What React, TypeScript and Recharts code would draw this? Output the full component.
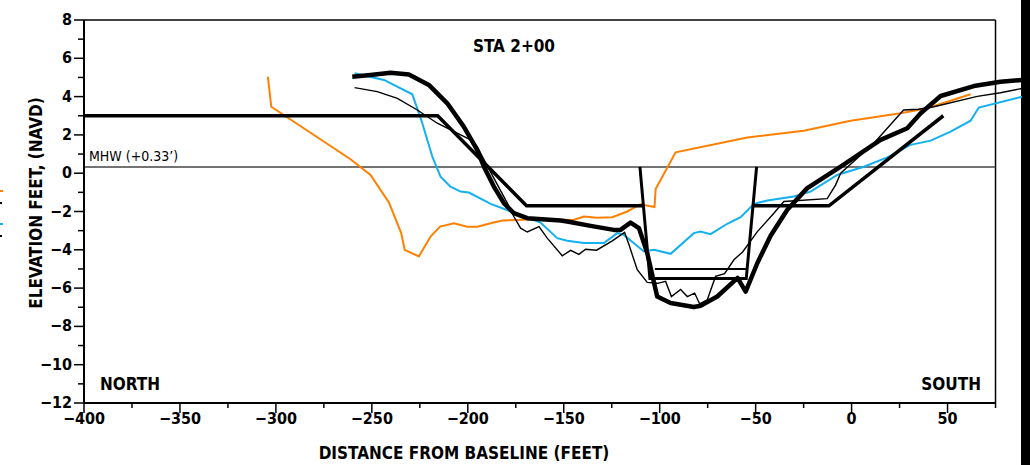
import React from 'react';
import {
  ComposedChart,
  Line,
  XAxis,
  YAxis,
  ReferenceLine,
  Customized,
} from 'recharts';

type Pt = [number, number];

// survey profiles (distance ft, elevation ft NAVD)
const orangeProfile: Pt[] = [
  [-304.2, 5.04], [-302.4, 3.47], [-261.1, 0.73], [-250.7, -0.09], [-241.1, -1.53],
  [-234.7, -3.13], [-232.9, -4.0], [-225.5, -4.35], [-219.4, -3.31], [-214.5, -2.79],
  [-207.2, -2.61], [-200.3, -2.79], [-195.0, -2.79], [-188.1, -2.61], [-182.0, -2.47],
  [-174.2, -2.44], [-167.3, -2.4], [-144.9, -2.44], [-139.5, -2.26], [-132.5, -2.32],
  [-124.7, -2.3], [-116.9, -2.0], [-110.0, -1.62], [-102.7, -1.77], [-102.1, -0.83],
  [-91.7, 1.09], [-54.4, 1.86], [-24.9, 2.22], [-0.5, 2.74], [25.5, 3.13],
  [39.4, 3.39], [62.0, 4.12],
];

const blueProfile: Pt[] = [
  [-259.0, 5.22], [-243.7, 4.87], [-228.9, 4.12], [-223.7, 2.61], [-218.5, 0.87],
  [-214.2, -0.18], [-209.0, -0.7], [-203.8, -0.96], [-199.4, -1.01], [-188.1, -1.6],
  [-174.2, -2.12], [-162.1, -2.58], [-153.4, -3.39], [-148.2, -3.53], [-139.5, -3.65],
  [-129.1, -3.65], [-122.1, -3.13], [-118.7, -3.22], [-108.2, -4.09], [-103.0, -4.0],
  [-94.3, -4.21], [-82.2, -3.13], [-78.7, -3.05], [-73.5, -3.18], [-64.8, -2.64],
  [-57.8, -2.3], [-50.9, -1.6], [-43.9, -1.43], [-30.1, -1.22], [-21.4, -0.96],
  [-7.5, -0.09], [6.4, 0.34], [18.6, 0.83], [30.7, 1.48], [41.2, 1.7],
  [51.6, 2.17], [62.0, 2.74], [66.3, 3.43], [89.0, 4.0],
];

const thinProfile: Pt[] = [
  [-259.0, 4.47], [-247.2, 4.26], [-236.7, 3.91], [-226.3, 3.3], [-215.9, 2.61],
  [-205.5, 2.09], [-198.5, 1.74], [-195.1, 1.39], [-190.5, 0.5], [-179.4, -1.56],
  [-176.0, -2.26], [-172.5, -2.87], [-169.0, -3.07], [-162.9, -2.79], [-158.6, -3.39],
  [-150.8, -4.31], [-146.4, -4.03], [-142.1, -4.24], [-138.6, -3.97], [-132.9, -4.02],
  [-124.7, -3.53], [-118.3, -3.09], [-116.0, -3.74], [-111.7, -5.04], [-106.5, -5.7],
  [-101.1, -5.75], [-96.9, -5.65], [-93.9, -6.44], [-89.1, -6.07], [-85.6, -6.44],
  [-81.8, -6.26], [-79.2, -6.82], [-75.2, -6.61], [-70.9, -5.39], [-66.2, -5.24],
  [-61.3, -4.52], [-56.8, -4.11], [-49.1, -3.05], [-40.5, -2.09], [-35.3, -1.48],
  [-12.7, -1.33], [-8.3, -0.61], [-5.7, 0.0], [11.6, 1.56], [27.1, 3.3],
  [34.9, 3.34], [42.9, 3.47], [65.5, 4.01], [77.6, 4.2], [89.0, 4.43],
];

const thickProfile: Pt[] = [
  [-260.2, 5.04], [-250.7, 5.13], [-240.2, 5.25], [-230.7, 5.16], [-220.3, 4.61],
  [-210.7, 3.65], [-202.1, 2.43], [-195.1, 1.22], [-191.6, 0.34], [-186.4, -0.7],
  [-181.2, -1.56], [-176.0, -2.09], [-169.0, -2.35], [-151.6, -2.47], [-148.2, -2.52],
  [-136.0, -2.75], [-123.9, -2.96], [-120.4, -2.96], [-115.2, -2.58], [-110.8, -2.87],
  [-106.5, -4.17], [-101.3, -6.44], [-94.3, -6.78], [-82.2, -6.99], [-78.7, -6.92],
  [-70.0, -6.44], [-59.4, -5.47], [-55.2, -6.18], [-49.1, -4.69], [-42.2, -3.27],
  [-33.5, -1.91], [-23.1, -0.78], [-5.7, 0.34], [15.1, 1.74], [29.0, 2.35],
  [36.0, 3.13], [46.4, 4.03], [63.7, 4.55], [77.6, 4.78], [89.0, 4.87],
];

// design template
const northBerm: Pt[] = [[-400, 3], [-215.7, 3], [-169.4, -1.7], [-108.7, -1.7]];
const channel: Pt[] = [[-110.3, 0.33], [-105.1, -5.5], [-54.9, -5.5], [-49.5, 0.33]];
const southBerm: Pt[] = [[-51.4, -1.7], [-11.8, -1.7], [47.8, 3.0]];
const channelDepth: Pt[] = [[-102.5, -5.0], [-55.0, -5.0]];

const MHW = 0.33;

const xTicks = [
  -400, -375, -350, -325, -300, -275, -250, -225, -200, -175, -150, -125,
  -100, -75, -50, -25, 0, 25, 50, 75,
];
const yTicks = [
  -12, -11, -10, -9, -8, -7, -6, -5, -4, -3, -2, -1, 0, 1, 2, 3, 4, 5, 6, 7, 8,
];

const FONT =
  "'Liberation Sans Narrow', 'DejaVu Sans Condensed', 'Arial Narrow', 'Liberation Sans', sans-serif";

const rows = (pts: Pt[]) => pts.map(([x, y]) => ({ x, y }));
const fmt = (v: number) => (v < 0 ? `\u2212${Math.abs(v)}` : `${v}`);

function XTick(props: any) {
  const { x, y, payload } = props;
  const v = payload.value as number;
  const major = v % 50 === 0;
  return (
    <g>
      <line x1={x} x2={x} y1={y} y2={y + (major ? 10 : 5)} stroke="#000" strokeWidth={1.5} />
      {major && (
        <text
          x={x}
          y={y + 21}
          textAnchor="middle"
          fontFamily={FONT}
          fontWeight="bold"
          fontSize={16}
          fill="#000"
        >
          {fmt(v)}
        </text>
      )}
    </g>
  );
}

function YTick(props: any) {
  const { x, y, payload } = props;
  const v = payload.value as number;
  const major = v % 2 === 0;
  return (
    <g>
      <line x1={x - (major ? 10 : 6)} x2={x} y1={y} y2={y} stroke="#000" strokeWidth={1.5} />
      {major && (
        <text
          x={x - 12}
          y={y + 5}
          textAnchor="end"
          fontFamily={FONT}
          fontWeight="bold"
          fontSize={16}
          fill="#000"
        >
          {fmt(v)}
        </text>
      )}
    </g>
  );
}

function Annotations() {
  const bold = { fontFamily: FONT, fontWeight: 'bold' as const, fill: '#000' };
  return (
    <g>
      <text x={514} y={52} textAnchor="middle" fontSize={17} {...bold}>
        STA  2+00
      </text>
      <text x={89} y={161} fontSize={14} fontFamily={FONT} fill="#000">
        MHW  (+0.33’)
      </text>
      <text x={100} y={390} fontSize={17} {...bold}>
        NORTH
      </text>
      <text x={981} y={390} textAnchor="end" fontSize={17} {...bold}>
        SOUTH
      </text>
      <text x={464} y={459} textAnchor="middle" fontSize={17} {...bold}>
        DISTANCE  FROM  BASELINE  (FEET)
      </text>
      <text
        x={0}
        y={0}
        transform="translate(42,203) rotate(-90)"
        textAnchor="middle"
        fontSize={17}
        {...bold}
      >
        ELEVATION  FEET,  (NAVD)
      </text>
      {/* cut-off legend swatches at the left edge */}
      <line x1={0} x2={3} y1={191} y2={191} stroke="#ff8000" strokeWidth={2} />
      <line x1={0} x2={2} y1={203} y2={203} stroke="#000" strokeWidth={2} />
      <line x1={0} x2={3} y1={224} y2={224} stroke="#12b0f0" strokeWidth={2} />
      <line x1={0} x2={2} y1={236} y2={236} stroke="#000" strokeWidth={2} />
      {/* page frame bar on the right */}
      <rect x={1021} y={0} width={9} height={465} fill="#000" />
    </g>
  );
}

export default function App() {
  return (
    <div
      style={{
        position: 'absolute',
        left: 0,
        top: 0,
        width: 1030,
        height: 465,
        background: '#fff',
      }}
    >
      <ComposedChart
        width={1030}
        height={465}
        margin={{ top: 20, right: 8, bottom: 0, left: 0 }}
      >
        <XAxis
          dataKey="x"
          type="number"
          domain={[-400, 88.8]}
          ticks={xTicks}
          interval={0}
          axisLine={false}
          tickLine={false}
          tickSize={0}
          tickMargin={0}
          height={62}
          tick={<XTick />}
          allowDataOverflow
        />
        <YAxis
          type="number"
          domain={[-12, 8]}
          ticks={yTicks}
          interval={0}
          width={84}
          axisLine={{ stroke: '#000', strokeWidth: 2 }}
          tickLine={false}
          tickSize={0}
          tickMargin={0}
          tick={<YTick />}
          allowDataOverflow
        />
        <ReferenceLine
          segment={[{ x: -400, y: 8 }, { x: 75, y: 8 }]}
          stroke="#000"
          strokeWidth={1.5}
        />
        <ReferenceLine
          segment={[{ x: -400, y: -12 }, { x: 75, y: -12 }]}
          stroke="#000"
          strokeWidth={2}
        />
        <ReferenceLine
          segment={[{ x: 75, y: -12 }, { x: 75, y: 8 }]}
          stroke="#000"
          strokeWidth={1.5}
        />
        <ReferenceLine
          segment={[{ x: -400, y: MHW }, { x: 75, y: MHW }]}
          stroke="#444"
          strokeWidth={1.5}
        />
        <Line data={rows(orangeProfile)} dataKey="y" stroke="#ff8000" strokeWidth={2} dot={false} isAnimationActive={false} />
        <Line data={rows(blueProfile)} dataKey="y" stroke="#12b0f0" strokeWidth={2} dot={false} isAnimationActive={false} />
        <Line data={rows(thinProfile)} dataKey="y" stroke="#000" strokeWidth={1.4} dot={false} isAnimationActive={false} />
        <Line data={rows(northBerm)} dataKey="y" stroke="#000" strokeWidth={3.5} dot={false} isAnimationActive={false} />
        <Line data={rows(channel)} dataKey="y" stroke="#000" strokeWidth={3} dot={false} isAnimationActive={false} />
        <Line data={rows(southBerm)} dataKey="y" stroke="#000" strokeWidth={3.5} dot={false} isAnimationActive={false} />
        <Line data={rows(channelDepth)} dataKey="y" stroke="#000" strokeWidth={2} dot={false} isAnimationActive={false} />
        <Line data={rows(thickProfile)} dataKey="y" stroke="#000" strokeWidth={4.5} dot={false} isAnimationActive={false} strokeLinejoin="round" />
        <Customized component={Annotations} />
      </ComposedChart>
    </div>
  );
}
